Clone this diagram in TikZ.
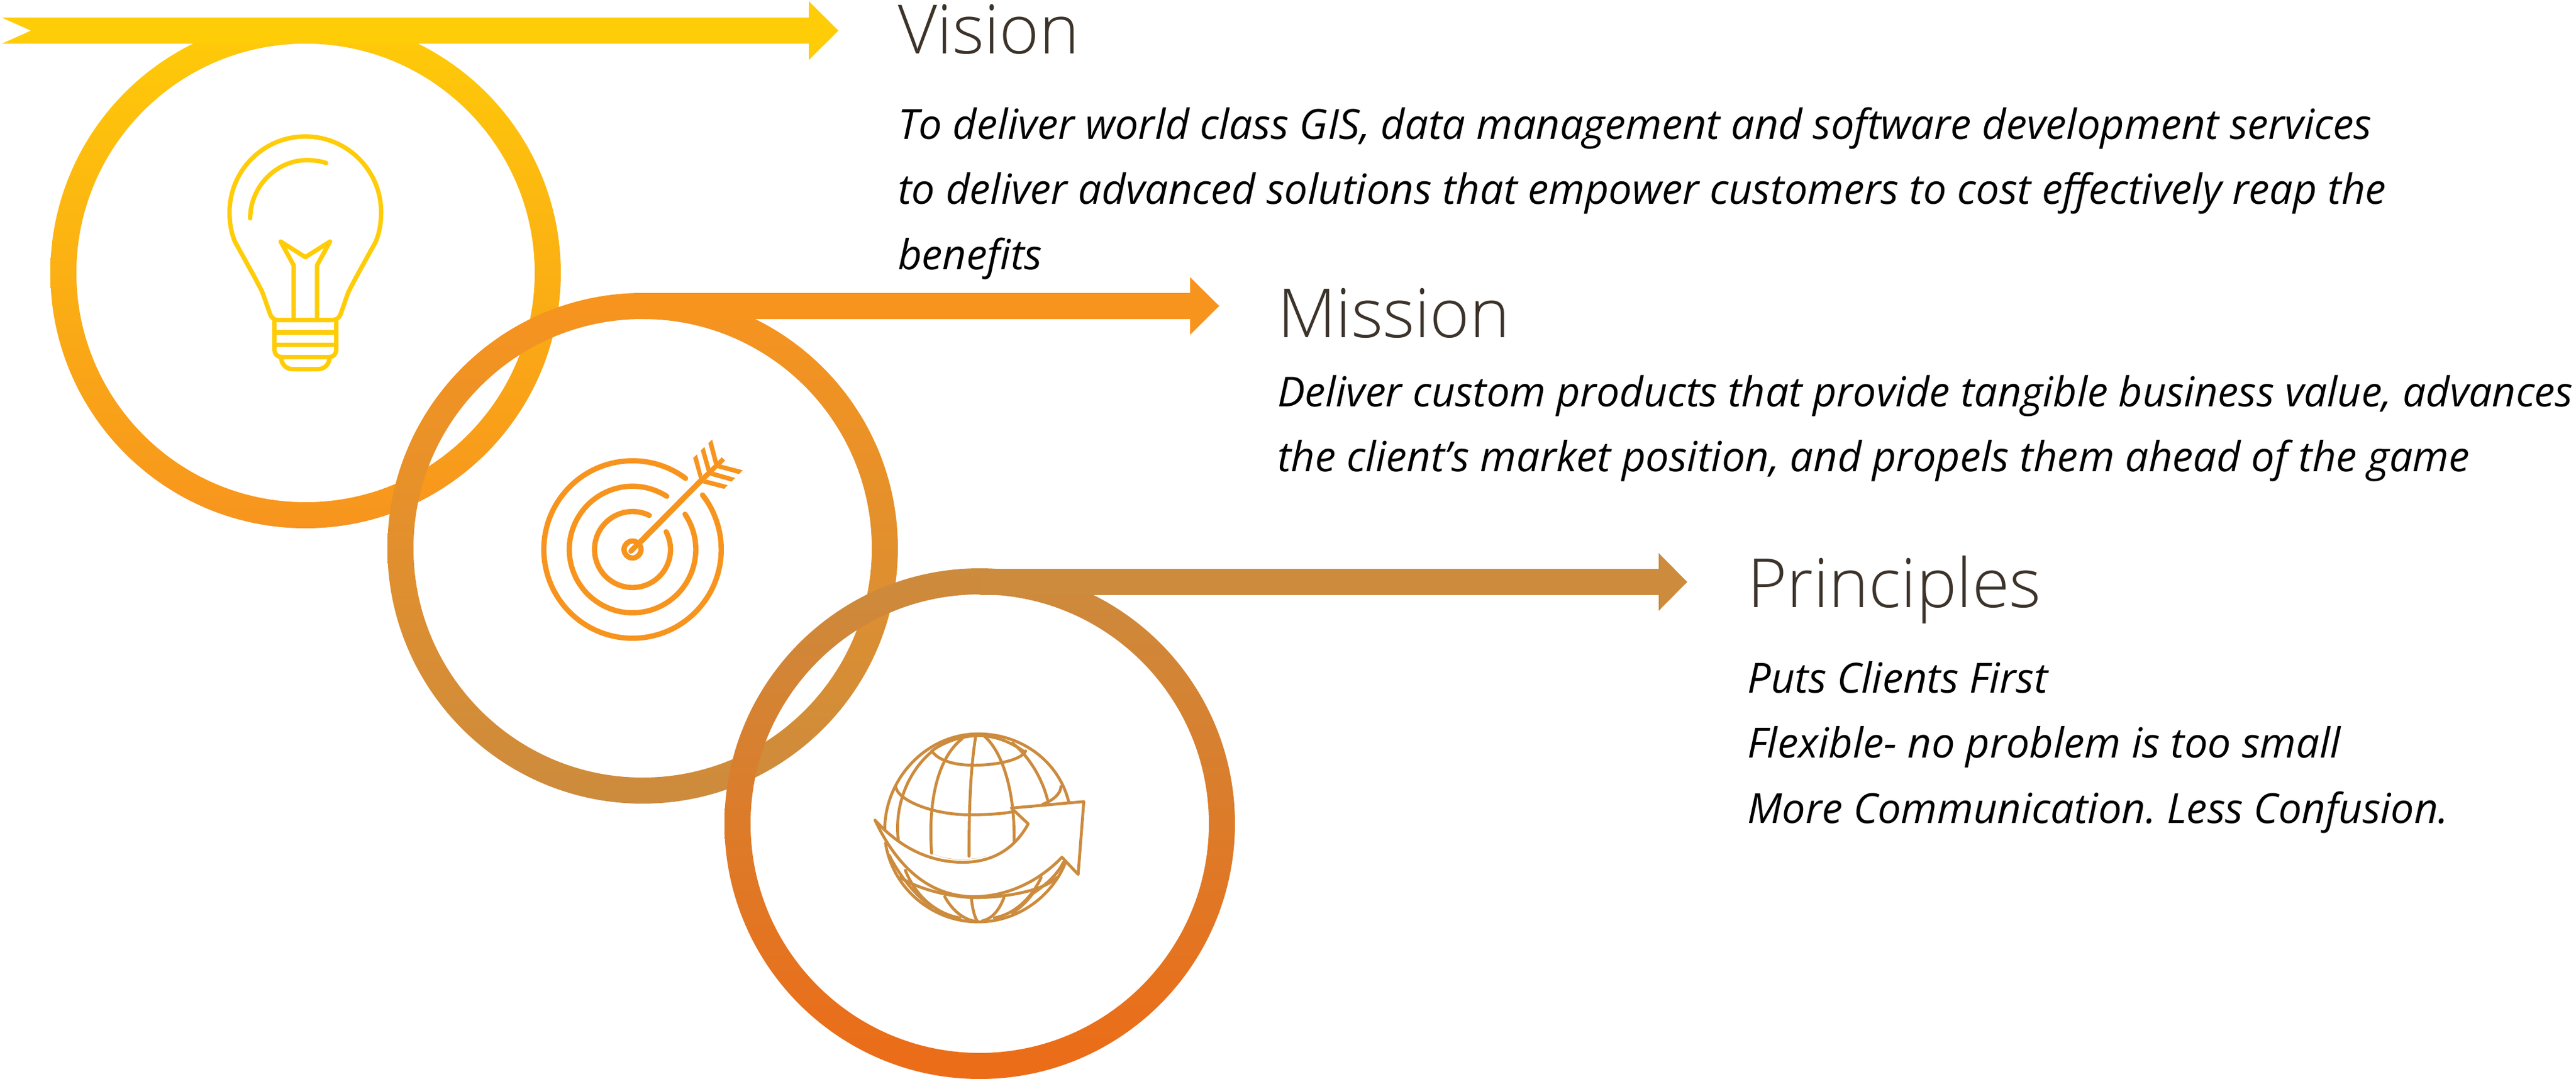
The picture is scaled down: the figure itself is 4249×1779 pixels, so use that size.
\documentclass[tikz,border=0pt]{standalone}
\usepackage{fontspec}
\setmainfont{Open Sans}
\newfontfamily\headfont{Open Sans Light}
\definecolor{cyel}{HTML}{FFCC08}
\definecolor{cora}{HTML}{F7941E}
\definecolor{ctan}{HTML}{CC8B3D}
\definecolor{cdeep}{HTML}{EC6C17}
\definecolor{chead}{HTML}{3C332B}
\tikzset{
  headtext/.style={anchor=base west,inner sep=0pt,text=chead,font=\headfont\fontsize{112}{130}\selectfont},
  bodytext/.style={anchor=base west,inner sep=0pt,text=black,font=\itshape\frenchspacing\fontsize{68.5}{108}\selectfont},
  bodytight/.style={bodytext,font=\itshape\frenchspacing\fontsize{68}{108}\selectfont},
  bulbline/.style={draw=cyel,line width=7.3pt,line cap=round,line join=round},
  targetline/.style={draw=cora,line width=8.7pt,line cap=round,line join=round},
  globeline/.style={draw=ctan,line width=4.8pt,line cap=round,line join=round},
}
\begin{document}
\begin{tikzpicture}[x=1pt,y=-1pt]
\useasboundingbox (0,0) rectangle (4249,1779);
\coordinate (c1) at (504,450);
\coordinate (c2) at (1060,904);
\coordinate (c3) at (1616,1358);
% ring 1 and arrow
\path[even odd rule,top color=cyel,bottom color=cora] (c1) circle[radius=421] (c1) circle[radius=378];
\fill[cyel] (3,29) -- (1334,29) -- (1334,2) -- (1383,50.5) -- (1334,99) -- (1334,72) -- (3,72) -- (51,50.5) -- cycle;
% ring 2 and arrow
\path[even odd rule,top color=cora,bottom color=ctan] (c2) circle[radius=421] (c2) circle[radius=378];
\fill[cora] (1060,483) -- (1963,483) -- (1963,457) -- (2011,504.5) -- (1963,552) -- (1963,526) -- (1060,526) -- cycle;
% ring 3 and arrow
\path[even odd rule,top color=ctan,bottom color=cdeep] (c3) circle[radius=421] (c3) circle[radius=378];
\fill[ctan] (1616,938) -- (2736,938) -- (2736,912) -- (2783,959.5) -- (2736,1007) -- (2736,981) -- (1616,981) -- cycle;

% bulb
\begin{scope}[shift={(300pt,-180pt)},x=0.33333pt,y=-0.33333pt]
\draw[bulbline] (264,658) .. controls (245,615) and (236,565) .. (236,510)
  .. controls (236,303) and (404,135) .. (611,135)
  .. controls (818,135) and (986,303) .. (986,510)
  .. controls (986,565) and (977,615) .. (958,658)
  -- (860,835) .. controls (845,865) and (830,890) .. (820,915)
  -- (785,1015) .. controls (778,1032) and (765,1043) .. (745,1043)
  -- (477,1043) .. controls (457,1043) and (444,1032) .. (437,1015)
  -- (402,915) .. controls (392,890) and (377,865) .. (362,835) -- cycle;
\draw[bulbline] (338,540) .. controls (338,385) and (465,252) .. (620,252) .. controls (652,252) and (684,257) .. (714,266);
\draw[bulbline] (553,1043) -- (553,772) -- (489,655) -- (611,732) -- (733,655) -- (669,772) -- (669,1043);
\draw[bulbline] (458,1043) -- (458,1190) .. controls (458,1210) and (472,1226) .. (492,1226) -- (730,1226) .. controls (750,1226) and (764,1210) .. (764,1190) -- (764,1043);
\draw[bulbline] (458,1104) -- (764,1104);
\draw[bulbline] (458,1165) -- (764,1165);
\draw[bulbline] (491,1226) .. controls (491,1260) and (515,1286) .. (548,1286) -- (674,1286) .. controls (707,1286) and (731,1260) .. (731,1226);
\end{scope}

% target: rings
\begin{scope}[shift={(1043.33pt,-906pt)},x=0.33333pt,y=0.33333pt]
\draw[targetline] (53.3:439) arc[start angle=53.3,end angle=397.9,radius=439];
\draw[targetline] (57.2:313) arc[start angle=57.2,end angle=393.9,radius=313];
\draw[targetline] (63.8:188) arc[start angle=63.8,end angle=387.9,radius=188];
\draw[targetline] (0,0) circle[radius=42];
\end{scope}
% target: arrow
\begin{scope}[shift={(850pt,-690pt)},x=0.33333pt,y=-0.33333pt]
\draw[targetline] (572,656) -- (915,310);
\fill[cora] (612,606) -- (910,298) -- (1022,192) -- (1038,208) -- (925,320) -- (630,620) -- cycle;
\fill[cora] (880,195) -- (899,178) -- (925,280) -- (910,300) -- cycle;
\fill[cora] (918,158) -- (936,141) -- (965,245) -- (948,264) -- cycle;
\fill[cora] (955,122) -- (974,104) -- (1002,212) -- (985,232) -- cycle;
\fill[cora] (925,320) -- (1033,348) -- (1051,330) -- (945,302) -- cycle;
\fill[cora] (962,282) -- (1070,312) -- (1088,294) -- (982,264) -- cycle;
\fill[cora] (998,245) -- (1107,275) -- (1125,256) -- (1018,228) -- cycle;
\end{scope}

% globe
\begin{scope}[shift={(1400pt,-1190pt)},x=0.33333pt,y=-0.33333pt]
% outline top and bottom
\draw[globeline] (178,535) .. controls (178,280) and (385,60) .. (640,60) .. controls (860,60) and (1040,200) .. (1088,395);
\draw[globeline] (182,600) .. controls (215,820) and (410,990) .. (640,990) .. controls (840,990) and (1010,860) .. (1075,690);
% inner top lines
\draw[globeline] (410,145) .. controls (470,100) and (550,72) .. (640,68) .. controls (730,70) and (800,100) .. (872,150);
% parallels
\draw[globeline] (415,150) .. controls (450,195) and (530,215) .. (620,215) .. controls (710,215) and (850,195) .. (875,145);
\draw[globeline] (232,320) .. controls (240,390) and (420,460) .. (595,460) .. controls (690,460) and (760,455) .. (812,445);
\draw[globeline] (1050,320) .. controls (1050,355) and (1010,390) .. (960,408);
% meridians
\draw[globeline] (628,72) .. controls (610,190) and (595,340) .. (595,665);
\draw[globeline] (672,72) .. controls (760,150) and (822,340) .. (818,590);
\draw[globeline] (560,85) .. controls (450,170) and (390,370) .. (410,650);
\draw[globeline] (408,150) .. controls (290,250) and (225,420) .. (245,585);
\draw[globeline] (810,105) .. controls (890,170) and (960,280) .. (987,400);
% lower section
\draw[globeline] (255,770) .. controls (330,820) and (480,865) .. (620,870) .. controls (760,870) and (960,840) .. (1030,770);
\draw[globeline] (200,660) .. controls (250,760) and (330,860) .. (410,915);
\draw[globeline] (280,735) .. controls (330,860) and (430,950) .. (550,970);
\draw[globeline] (475,865) .. controls (510,930) and (570,985) .. (640,988);
\draw[globeline] (607,875) .. controls (612,920) and (620,960) .. (635,985);
\draw[globeline] (768,870) .. controls (745,930) and (710,975) .. (660,985);
\draw[globeline] (952,770) .. controls (910,860) and (830,950) .. (720,970);
\draw[globeline] (1062,695) .. controls (1040,740) and (1000,790) .. (910,850) .. controls (880,890) and (850,920) .. (810,945);
% big arrow
\draw[globeline] (130,487) .. controls (270,640) and (420,695) .. (565,695)
  .. controls (710,695) and (820,630) .. (888,505) -- (805,427) -- (1163,395)
  -- (1135,755) -- (1055,670) .. controls (930,800) and (770,865) .. (620,865)
  .. controls (400,865) and (240,720) .. (130,487) -- cycle;
\fill[ctan] (410,650) .. controls (470,680) and (560,695) .. (680,665) .. controls (600,685) and (490,690) .. (410,650) -- cycle;
\end{scope}

% texts
\node[headtext] (vh) at (1481,89) {Vision};
\node[bodytext] (v1) at (1481,230) {To deliver world class GIS, data management and software development services};
\node[bodytext] (v2) at (1481,337) {to deliver advanced solutions that empower customers to cost effectively reap the};
\node[bodytext] (v3) at (1481,444) {benefits};
\node[headtext] (mh) at (2107,556.7) {Mission};
\node[bodytight] (m1) at (2107,670) {Deliver custom products that provide tangible business value, advances};
\node[bodytext] (m2) at (2107,777) {the client’s market position, and propels them ahead of the game};
\node[headtext] (ph) at (2882,1001) {Principles};
\node[bodytext] (p1) at (2882,1142) {Puts Clients First};
\node[bodytext] (p2) at (2882,1249.5) {Flexible- no problem is too small};
\node[bodytext] (p3) at (2882,1357) {More Communication. Less Confusion.};
\end{tikzpicture}
\end{document}
